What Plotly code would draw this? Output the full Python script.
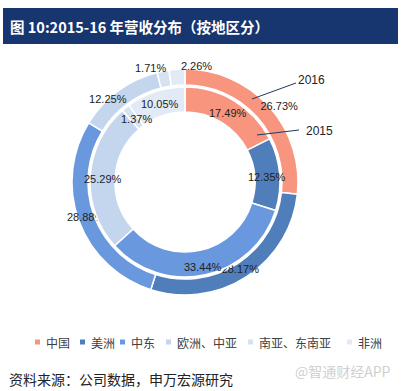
import math
import plotly.graph_objects as go

# ---------------- data ----------------
regions = ["中国", "美洲", "中东", "欧洲、中亚", "南亚、东南亚", "非洲"]
share_2016 = [26.73, 28.17, 28.88, 12.25, 1.71, 2.26]   # outer ring
share_2015 = [17.49, 12.35, 33.44, 25.29, 1.37, 10.05]  # inner ring
ring_names = ["2016", "2015"]
title_text = "图 10:2015-16 年营收分布（按地区分）"
source_text = "资料来源：公司数据，申万宏源研究"
watermark_text = "@智通财经APP"

# ---------------- styling / layout ----------------
colors = ["#F8957F", "#4F7EBB", "#6A98DE", "#C3D6EE", "#D6E2F2", "#E2EAF6"]
W, H = 401, 391
CX, CY = 185, 182          # donut centre (px from top-left)
R_OUT, R_OUT_IN = 113, 97  # outer ring radii
R_IN, R_IN_HOLE = 95, 70   # inner ring radii
R_POLAR = 140              # polar canvas radius (room for labels)
LABEL_R_OUT, LABEL_R_IN = 105, 82
out_nudge = [(16, -5), (-2, 0), (-1, 0), (-15, 3), (-14, -10), (19, -10)]
in_nudge = [(0, 1), (0, 2), (0, 5), (0, 2), (3, 1), (0, 0)]
label_font = dict(family="Liberation Sans, Arial, sans-serif", size=11, color="#222222")
cjk = "Noto Sans CJK SC, sans-serif"


def px_to_paper(x, y):
    return x / W, 1 - y / H


def mids(vals):
    tot = sum(vals)
    cum, out = 0.0, []
    for v in vals:
        out.append(((cum + v / 2) / tot * 360.0, v / tot * 360.0))
        cum += v
    return out


fig = go.Figure()

# outer ring (2016) as barpolar so its labels can sit beneath the inner ring
m16 = mids(share_2016)
fig.add_trace(go.Barpolar(
    theta=[m for m, _ in m16], width=[w for _, w in m16],
    r=[R_OUT - R_OUT_IN] * len(share_2016), base=[R_OUT_IN] * len(share_2016),
    marker=dict(color=colors, line=dict(color="white", width=1.5)),
    showlegend=False, hoverinfo="skip", subplot="polar"))

# outer labels
lr, lt, ltxt = [], [], []
for (m, _), v, (dx, dy) in zip(m16, share_2016, out_nudge):
    a = math.radians(m)
    x = LABEL_R_OUT * math.sin(a) + dx
    y = LABEL_R_OUT * math.cos(a) - dy
    lr.append(math.hypot(x, y))
    lt.append(math.degrees(math.atan2(x, y)) % 360)
    ltxt.append(f"{v:.2f}%")
fig.add_trace(go.Scatterpolar(r=lr, theta=lt, text=ltxt, mode="text",
                              textfont=label_font, cliponaxis=False,
                              showlegend=False, hoverinfo="skip", subplot="polar"))

fig.update_layout(polar=dict(
    domain=dict(x=[(CX - R_POLAR) / W, (CX + R_POLAR) / W],
                y=[1 - (CY + R_POLAR) / H, 1 - (CY - R_POLAR) / H]),
    bgcolor="rgba(0,0,0,0)", hole=0,
    radialaxis=dict(visible=False, range=[0, R_POLAR]),
    angularaxis=dict(visible=False, rotation=90, direction="clockwise"),
    bargap=0))

# inner ring (2015) as pie, drawn above
fig.add_trace(go.Pie(
    labels=regions, values=share_2015, sort=False, direction="clockwise",
    hole=R_IN_HOLE / R_IN, textinfo="none", hoverinfo="skip", showlegend=False,
    marker=dict(colors=colors, line=dict(color="white", width=1.5)),
    domain=dict(x=[(CX - R_IN) / W, (CX + R_IN) / W],
                y=[1 - (CY + R_IN) / H, 1 - (CY - R_IN) / H])))

annotations, shapes = [], []
m15 = mids(share_2015)
for (m, _), v, (dx, dy) in zip(m15, share_2015, in_nudge):
    a = math.radians(m)
    x = CX + LABEL_R_IN * math.sin(a) + dx
    y = CY - LABEL_R_IN * math.cos(a) + dy
    px, py = px_to_paper(x, y)
    annotations.append(dict(x=px, y=py, xref="paper", yref="paper", text=f"{v:.2f}%",
                            showarrow=False, font=label_font, xanchor="center", yanchor="middle"))

# ring call-outs
callouts = [((252, 99), (296, 83), (311, 80)), ((257, 135), (299, 130), (319, 131))]
for name, (p0, p1, pt) in zip(ring_names, callouts):
    x0, y0 = px_to_paper(*p0)
    x1, y1 = px_to_paper(*p1)
    shapes.append(dict(type="line", xref="paper", yref="paper", x0=x0, y0=y0, x1=x1, y1=y1,
                       line=dict(color="#1F3864", width=1), layer="above"))
    tx, ty = px_to_paper(*pt)
    annotations.append(dict(x=tx, y=ty, xref="paper", yref="paper", text=name, showarrow=False,
                            font=dict(family="Liberation Sans, Arial, sans-serif", size=12, color="#222222"),
                            xanchor="center", yanchor="middle"))

# title bar
bx0, by0 = px_to_paper(3, 8)
bx1, by1 = px_to_paper(398, 44)
shapes.append(dict(type="rect", xref="paper", yref="paper", x0=bx0, y0=by1, x1=bx1, y1=by0,
                   fillcolor="#17356E", line=dict(width=0), layer="below"))
tx, ty = px_to_paper(8, 27)
annotations.append(dict(x=tx, y=ty, xref="paper", yref="paper", text=f"<b>{title_text}</b>",
                        showarrow=False, xanchor="left", yanchor="middle",
                        font=dict(family=cjk, size=14.5, color="white")))

# legend (small squares + text)
legend_sq_x = [35, 80, 120, 166, 248, 347]
LEG_Y = 342
for name, c, sx in zip(regions, colors, legend_sq_x):
    x0, y0 = px_to_paper(sx, LEG_Y - 2.5)
    x1, y1 = px_to_paper(sx + 5, LEG_Y + 2.5)
    shapes.append(dict(type="rect", xref="paper", yref="paper", x0=x0, y0=y1, x1=x1, y1=y0,
                       fillcolor=c, line=dict(width=0)))
    lx, ly = px_to_paper(sx + 9, LEG_Y)
    annotations.append(dict(x=lx, y=ly, xref="paper", yref="paper", text=name, showarrow=False,
                            xanchor="left", yanchor="middle",
                            font=dict(family=cjk, size=12, color="#404040")))

# source and watermark
sx_, sy_ = px_to_paper(7, 379)
annotations.append(dict(x=sx_, y=sy_, xref="paper", yref="paper", text=source_text, showarrow=False,
                        xanchor="left", yanchor="middle", font=dict(family=cjk, size=14, color="#222222")))
wx, wy = px_to_paper(393, 371)
annotations.append(dict(x=wx, y=wy, xref="paper", yref="paper", text=watermark_text, showarrow=False,
                        xanchor="right", yanchor="middle", font=dict(family=cjk, size=14, color="#D0D0D0")))

fig.update_layout(width=W, height=H, margin=dict(l=0, r=0, t=0, b=0),
                  paper_bgcolor="white", plot_bgcolor="white",
                  annotations=annotations, shapes=shapes, showlegend=False)

fig.write_html("out.html", config={"displayModeBar": False},
               post_script="document.body.style.margin='0';")
